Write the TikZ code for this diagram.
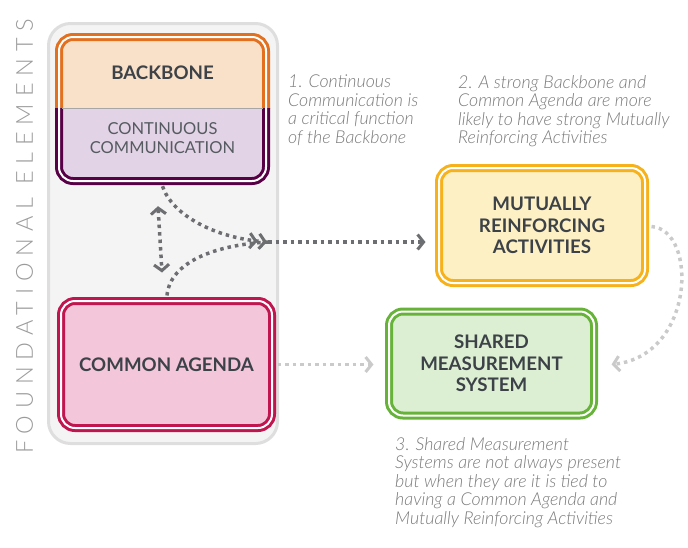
\documentclass[tikz,border=0pt]{standalone}
\usepackage{fontspec}
\setmainfont{Lato}
\newfontfamily\latolight{Lato Light}[ItalicFont={Lato Light Italic}]
\newfontfamily\latospaced{Lato Light}[LetterSpace=29]
\usetikzlibrary{arrows.meta,calc}
\definecolor{bgfill}{HTML}{F4F4F4}
\definecolor{bgline}{HTML}{DEDEDE}
\definecolor{obord}{HTML}{E2701E}
\definecolor{ofill}{HTML}{F9E0C8}
\definecolor{pbord}{HTML}{580046}
\definecolor{pfill}{HTML}{E3D3E6}
\definecolor{cbord}{HTML}{C0154F}
\definecolor{cfill}{HTML}{F3C6DA}
\definecolor{ybord}{HTML}{F7B21B}
\definecolor{yfill}{HTML}{FDF0C4}
\definecolor{gbord}{HTML}{67B33A}
\definecolor{gfill}{HTML}{DCEFD2}
\definecolor{txtdark}{HTML}{3C4248}
\definecolor{txtmid}{HTML}{555B60}
\definecolor{notegray}{HTML}{7A7A7A}
\definecolor{sidegray}{HTML}{9B9B9B}
\definecolor{arrdark}{HTML}{6D6E71}
\definecolor{arrlight}{HTML}{CACACA}
\tikzset{
  x=1pt, y=-1pt,
  chev/.tip={Straight Barb[length=6pt,width=15pt,line width=3pt]},
  dblline/.style={line width=3pt, double=white, double distance=2pt},
  box/.style={dblline, rounded corners=14pt, align=center, text=txtdark,
    font=\fontsize{18.7}{21.5}\selectfont\bfseries, inner sep=0pt},
  darr/.style={draw=arrdark, line width=3.5pt, dash pattern=on 3.5pt off 4pt},
  larr/.style={draw=arrlight, line width=3.5pt, dash pattern=on 3.5pt off 4pt},
  note/.style={anchor=north west, align=left, inner sep=0pt, text=notegray,
    font=\latolight\itshape\fontsize{17.8}{18.5}\selectfont},
}
\begin{document}
\begin{tikzpicture}
\useasboundingbox (0,0) rectangle (688,547);
% foundational background
\draw[bgline, fill=bgfill, line width=3pt, rounded corners=22pt] (48.5,23.5) rectangle (277.5,443.5);
\node[rotate=90, text=sidegray, inner sep=0pt, font=\latospaced\fontsize{23.5}{23.5}\selectfont] (fe) at (24.5,236.5) {FOUNDATIONAL ELEMENTS};
% backbone + communication box
\fill[pfill, rounded corners=14pt] (59,37) rectangle (266,181);
\begin{scope}
  \clip (40,10) rectangle (290,108);
  \fill[ofill, rounded corners=14pt] (59,37) rectangle (266,181);
  \draw[obord, dblline, rounded corners=14pt] (59,37) rectangle (266,181);
\end{scope}
\begin{scope}
  \clip (40,108) rectangle (290,200);
  \draw[pbord, dblline, rounded corners=14pt] (59,37) rectangle (266,181);
\end{scope}
\draw[gray!70, line width=0.8pt] (62,108) -- (263,108);
\node[inner sep=0pt, minimum width=207pt, minimum height=144pt] (bbbox) at (162.5,109) {};
\node[inner sep=0pt, text=txtdark, font=\fontsize{18.7}{21.5}\selectfont\bfseries] (bb) at (162.5,73) {BACKBONE};
\node[inner sep=0pt, align=center, text=txtmid, font=\fontsize{16.5}{19}\selectfont] (cc) at (162.5,138) {CONTINUOUS\\COMMUNICATION};
% other boxes
\node[box, draw=cbord, fill=cfill, minimum width=211pt, minimum height=127pt] (ca) at (166.5,364.5) {COMMON AGENDA};
\node[box, draw=ybord, fill=yfill, minimum width=206pt, minimum height=115pt] (mra) at (542,225.5) {MUTUALLY\\REINFORCING\\ACTIVITIES};
\node[box, draw=gbord, fill=gfill, minimum width=205pt, minimum height=104pt] (sms) at (491.5,363.5) {SHARED\\MEASUREMENT\\SYSTEM};
% notes
\node[note] (n1) at (288,75) {1. Continuous\\Communication is\\a critical function\\of the Backbone};
\node[note] (n2) at (458,75) {2. A strong Backbone and\\Common Agenda are more\\likely to have strong Mutually\\Reinforcing Activities};
\node[note] (n3) at (395,437) {3. Shared Measurement\\Systems are not always present\\but when they are it is tied to\\having a Common Agenda and\\Mutually Reinforcing Activities};
% connectors
\coordinate (m) at (268,242);
\draw[darr, -{chev[]chev[sep=1pt]}] ([yshift=-5pt]bbbox.south) .. controls (172,215) and (215,238) .. (m);
\draw[darr] ([xshift=0.5pt,yshift=4pt]ca.north) .. controls (170,262) and (215,245) .. (m);
\draw[darr, -{chev[]}] (m) -- ([xshift=-12pt]m -| mra.west);
\draw[darr, {chev[]}-{chev[]}] ([xshift=-4.5pt,yshift=-25pt]bbbox.south) -- ([xshift=-4.5pt,yshift=27pt]ca.north);
\draw[larr, -{chev[]}] ([xshift=4pt]ca.east) -- ([xshift=-14pt]ca.east -| sms.west);
\draw[larr, -{chev[]}] ([xshift=5pt,yshift=-1pt]mra.east) .. controls (698,230) and (695,355) .. ([xshift=16pt,yshift=-1pt]sms.east);
\end{tikzpicture}
\end{document}
